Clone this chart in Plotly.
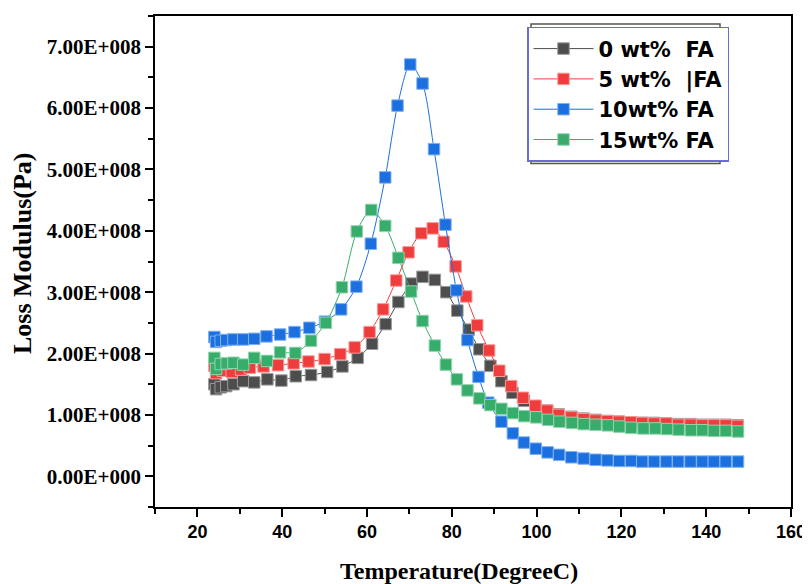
import plotly.graph_objects as go

# ---------------- data (loss modulus in units of 1e8 Pa) ----------------
x_0wt = [24.0, 24.4, 25.5, 26.8, 28.5, 30.8, 33.4, 36.5, 39.8, 43.2, 46.8, 50.6, 54.2, 57.8, 61.2,
         64.4, 67.4, 70.5, 73.1, 76.0, 78.7, 81.3, 84.0, 86.5, 89.1, 91.7, 94.3, 97.0, 99.7, 102.5,
         105.2, 108.2, 111.1, 113.9, 116.7, 119.4, 122.2, 124.9, 127.7, 130.6, 133.4, 136.3, 139.1,
         141.8, 144.6, 147.4]
y_0wt = [1.50, 1.42, 1.45, 1.47, 1.50, 1.55, 1.53, 1.58, 1.56, 1.63, 1.65, 1.70, 1.79, 1.93, 2.16,
         2.48, 2.84, 3.14, 3.25, 3.20, 3.00, 2.70, 2.39, 2.07, 1.80, 1.55, 1.36, 1.23, 1.14, 1.07,
         1.01, 0.97, 0.94, 0.92, 0.90, 0.89, 0.88, 0.87, 0.87, 0.86, 0.85, 0.85, 0.84, 0.84, 0.84, 0.83]

x_5wt = [24.0, 24.4, 26.0, 28.1, 30.3, 32.4, 35.6, 39.0, 42.7, 46.2, 50.0, 53.7, 57.1, 60.6, 63.8,
         66.9, 69.8, 72.8, 75.5, 78.1, 80.9, 83.4, 86.0, 88.8, 91.2, 94.0, 96.8, 99.7, 102.5, 105.2,
         108.2, 111.1, 113.9, 116.7, 119.4, 122.2, 124.9, 127.7, 130.6, 133.4, 136.3, 139.1, 141.8,
         144.6, 147.4]
y_5wt = [1.80, 1.68, 1.72, 1.70, 1.74, 1.77, 1.79, 1.81, 1.84, 1.87, 1.91, 1.99, 2.10, 2.35, 2.72,
         3.19, 3.65, 3.96, 4.04, 3.82, 3.42, 2.93, 2.46, 2.05, 1.72, 1.47, 1.28, 1.15, 1.07, 1.00,
         0.96, 0.93, 0.91, 0.90, 0.89, 0.88, 0.87, 0.86, 0.86, 0.84, 0.84, 0.83, 0.83, 0.83, 0.82]

x_10wt = [24.0, 24.4, 25.5, 26.8, 28.5, 30.8, 33.4, 36.3, 39.5, 42.9, 46.4, 50.1, 53.9, 57.5, 60.9,
          64.3, 67.2, 70.2, 73.1, 75.8, 78.5, 81.1, 83.7, 86.3, 88.6, 91.7, 94.4, 97.0, 99.8, 102.6,
          105.3, 108.2, 111.1, 113.9, 116.7, 119.5, 122.3, 124.9, 127.7, 130.6, 133.4, 136.3, 139.1,
          141.8, 144.6, 147.5]
y_10wt = [2.27, 2.19, 2.21, 2.22, 2.23, 2.23, 2.24, 2.28, 2.31, 2.35, 2.42, 2.52, 2.72, 3.09, 3.79,
          4.87, 6.04, 6.71, 6.40, 5.33, 4.10, 3.03, 2.22, 1.62, 1.20, 0.89, 0.70, 0.55, 0.45, 0.39,
          0.35, 0.31, 0.29, 0.27, 0.26, 0.25, 0.25, 0.24, 0.24, 0.24, 0.24, 0.24, 0.24, 0.24, 0.24, 0.24]

x_15wt = [24.0, 24.4, 25.5, 26.9, 28.5, 30.8, 33.4, 36.4, 39.5, 43.1, 46.8, 50.3, 54.1, 57.6, 61.0,
          64.3, 67.4, 70.4, 73.1, 76.0, 78.6, 81.2, 83.7, 86.5, 89.1, 91.7, 94.4, 97.1, 99.9, 102.7,
          105.4, 108.3, 111.1, 113.9, 116.8, 119.5, 122.3, 125.2, 128.0, 130.8, 133.5, 136.4, 139.1,
          141.8, 144.6, 147.5]
y_15wt = [1.93, 1.75, 1.83, 1.84, 1.85, 1.82, 1.93, 1.88, 2.02, 2.01, 2.21, 2.50, 3.08, 3.99, 4.34,
          4.08, 3.56, 3.01, 2.53, 2.13, 1.82, 1.58, 1.40, 1.27, 1.16, 1.10, 1.03, 0.98, 0.96, 0.92,
          0.89, 0.87, 0.85, 0.84, 0.83, 0.81, 0.79, 0.78, 0.78, 0.77, 0.76, 0.75, 0.75, 0.74, 0.74, 0.73]

series_names = ["0 wt%  FA", "5 wt%  |FA", "10wt% FA", "15wt% FA"]
series_x = [x_0wt, x_5wt, x_10wt, x_15wt]
series_y = [y_0wt, y_5wt, y_10wt, y_15wt]
series_colors = ["#4d4d4d", "#ef3d3d", "#1b6fdf", "#37ad6b"]
edge_colors = ["#9a9a9a", "#f79a9a", "#7fb0ef", "#92d3ae"]

y_tick_vals = [0, 1, 2, 3, 4, 5, 6, 7]
y_tick_text = ["0.00E+000", "1.00E+008", "2.00E+008", "3.00E+008",
               "4.00E+008", "5.00E+008", "6.00E+008", "7.00E+008"]

fig = go.Figure()
for i, (nm, xs, ys, c, ec) in enumerate(zip(series_names, series_x, series_y, series_colors, edge_colors)):
    fig.add_trace(go.Scatter(
        x=xs, y=ys, name=nm, mode="lines+markers",
        line=dict(color=c, width=1, shape="spline", smoothing=0.8),
        marker=dict(symbol="square", size=11.5, color=c, line=dict(color=ec, width=1)),
        legendgroup=str(i),
    ))

axis_font_x = dict(family="Liberation Sans, Arial", size=18, color="black")
axis_font_y = dict(family="Liberation Serif, Times New Roman", size=21, color="black")

# page has an 8px body margin; plot area targeted at x 155..791, y 14..507 on the page
fig.update_layout(
    width=810, height=584,
    margin=dict(l=147, r=27, t=6, b=85),
    paper_bgcolor="white", plot_bgcolor="white",
    showlegend=True,
    legend=dict(
        x=(527 - 155) / 636, y=(507 - 25) / 493, xanchor="left", yanchor="top",
        bgcolor="white", bordercolor="#6b6bd6", borderwidth=1.5,
        font=dict(family="DejaVu Sans", size=21, color="black", weight="bold"),
        traceorder="grouped", tracegroupgap=0, itemwidth=60,
    ),
    xaxis=dict(
        range=[10, 160], tick0=0, dtick=20,
        showgrid=False, zeroline=False,
        showline=True, linecolor="black", linewidth=1.5, mirror=True,
        ticks="outside", ticklen=8, tickwidth=1.5, tickcolor="black",
        tickfont=dict(**axis_font_x, weight="bold"),
        minor=dict(dtick=10, tick0=0, ticks="outside", ticklen=5, tickwidth=1.5, tickcolor="black"),
    ),
    yaxis=dict(
        range=[-0.5, 7.5], tickmode="array", tickvals=y_tick_vals, ticktext=y_tick_text,
        showgrid=False, zeroline=False,
        showline=True, linecolor="black", linewidth=1.5, mirror=True,
        ticks="outside", ticklen=8, tickwidth=1.5, tickcolor="black",
        tickfont=dict(**axis_font_y, weight="bold"),
        minor=dict(tickmode="linear", tick0=-0.5, dtick=0.5, ticks="outside", ticklen=5,
                   tickwidth=1.5, tickcolor="black"),
    ),
    annotations=[
        dict(text="Temperature(DegreeC)", xref="paper", yref="paper",
             x=(459 - 155) / 636, y=(507 - 571) / 493, xanchor="center", yanchor="middle",
             showarrow=False,
             font=dict(family="Liberation Serif, Times New Roman", size=24, color="black", weight="bold")),
        dict(text="Loss Modulus(Pa)", xref="paper", yref="paper",
             x=(22 - 155) / 636, y=(507 - 252) / 493, xanchor="center", yanchor="middle",
             textangle=-90, showarrow=False,
             font=dict(family="Liberation Serif, Times New Roman", size=26, color="black", weight="bold")),
    ],
    shapes=[
        dict(type="rect", xref="paper", yref="paper",
             x0=(531 - 155) / 636, x1=(720 - 155) / 636,
             y0=(507 - 162) / 493, y1=(507 - 22) / 493,
             line=dict(color="#555555", width=1.5), fillcolor="rgba(0,0,0,0)", layer="above"),
    ],
)

fig.write_html("out.html")
